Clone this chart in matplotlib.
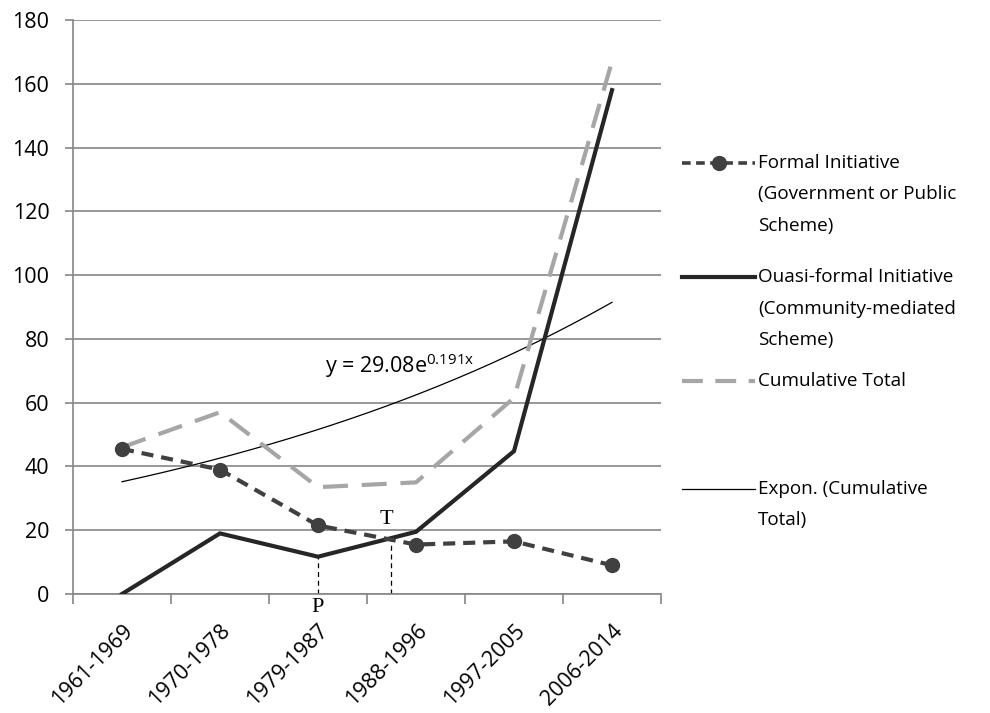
import numpy as np
import matplotlib
matplotlib.use('Agg')
import matplotlib.pyplot as plt
from matplotlib.lines import Line2D

plt.rcParams['font.family'] = ['Open Sans', 'DejaVu Sans']

periods = ['1961-1969', '1970-1978', '1979-1987', '1988-1996', '1997-2005', '2006-2014']
formal = [45.5, 39, 21.5, 15.5, 16.5, 9]
quasi = [0, 19, 11.7, 19.5, 44.8, 158]
cumulative = [46, 57, 33.5, 35, 61.5, 167]

# Excel exponential trend shown on the chart: y = 29.08 e^(0.191x), x = 1..6
trend_a = 29.08
trend_b = 0.191

# P and T reference markers
p_x, p_y = 2, 11.7
t_x, t_y = 2.75, 17.6

grid_col = '#868686'
formal_col = '#404040'
quasi_col = '#262626'
cum_col = '#a6a6a6'

fig = plt.figure(figsize=(9.9, 7.13), dpi=100)
ax = fig.add_axes([0.0737, 0.1669, 0.594, 0.8051])

x = np.arange(len(periods))

# smooth trend curve from the displayed equation
xs = np.linspace(0, len(periods) - 1, 200)
ax.plot(xs, trend_a * np.exp(trend_b * (xs + 1)), color='black', lw=0.9, zorder=3)

ax.plot(x, cumulative, color=cum_col, lw=3, linestyle=(0, (6, 3.3)), zorder=4)
ax.plot(x, quasi, color=quasi_col, lw=3, solid_joinstyle='miter', zorder=5)
ax.plot(x, formal, color=formal_col, lw=3, linestyle=(0, (2.9, 1.9)),
        marker='o', markersize=10, zorder=6)

# P and T guides
ax.vlines(p_x, 0, p_y, colors='black', linestyles=(0, (4, 3)), lw=0.9, zorder=2)
ax.vlines(t_x, 0, t_y, colors='black', linestyles=(0, (4, 3)), lw=0.9, zorder=2)
ax.text(p_x, -1.2, 'P', family=['Liberation Serif'], fontsize=16,
        ha='center', va='top', zorder=7)
ax.text(t_x - 0.05, 20.3, 'T', family=['Liberation Serif'], fontsize=16,
        ha='center', va='bottom', zorder=7)

ax.text(2.07, 71.5, r'y = 29.08e$^{\mathregular{0.191x}}$', fontsize=15.5,
        ha='left', va='center', zorder=7)

ax.set_xlim(-0.5, len(periods) - 0.5)
ax.set_ylim(0, 180)
ax.set_yticks(np.arange(0, 181, 20))
ax.set_xticks(x)
ax.set_xticklabels(periods, rotation=45, ha='right', rotation_mode='anchor')
ax.set_xticks(np.arange(-0.5, len(periods), 1), minor=True)
ax.tick_params(axis='x', which='major', length=0, labelsize=15.5, pad=19)
ax.tick_params(axis='x', which='minor', length=7, width=1.2, color=grid_col)
ax.tick_params(axis='y', length=6, width=1.2, color=grid_col, labelsize=15.5, pad=11)
ax.grid(axis='y', color=grid_col, lw=1.2)
ax.set_axisbelow(True)
for s in ['top', 'right']:
    ax.spines[s].set_visible(False)
for s in ['left', 'bottom']:
    ax.spines[s].set_color(grid_col)
    ax.spines[s].set_linewidth(1.2)

# legend drawn by hand to keep Excel's uneven spacing
H = 713.0
W = 990.0
def fy(py):
    return 1 - py / H

x0, x1, tx = 682 / W, 755 / W, 758 / W
line_h = 31.5
entries = [
    (163, ['Formal Initiative', '(Government or Public', 'Scheme)'],
     dict(color=formal_col, lw=2.6, linestyle=(0, (2.4, 1.5)))),
    (277, ['Ouasi-formal Initiative', '(Community-mediated', 'Scheme)'],
     dict(color=quasi_col, lw=3)),
    (381, ['Cumulative Total'],
     dict(color=cum_col, lw=3, linestyle=(0, (5, 3)))),
    (489, ['Expon. (Cumulative', 'Total)'],
     dict(color='black', lw=0.9)),
]
for py, lines, style in entries:
    fig.add_artist(Line2D([x0, x1], [fy(py), fy(py)], transform=fig.transFigure, **style))
    for i, t in enumerate(lines):
        fig.text(tx, fy(py + i * line_h), t, fontsize=13.6, ha='left', va='center')
fig.add_artist(Line2D([(x0 + x1) / 2], [fy(163)], transform=fig.transFigure,
                      marker='o', markersize=10, color=formal_col, lw=0))

fig.savefig('out.png', dpi=100)
